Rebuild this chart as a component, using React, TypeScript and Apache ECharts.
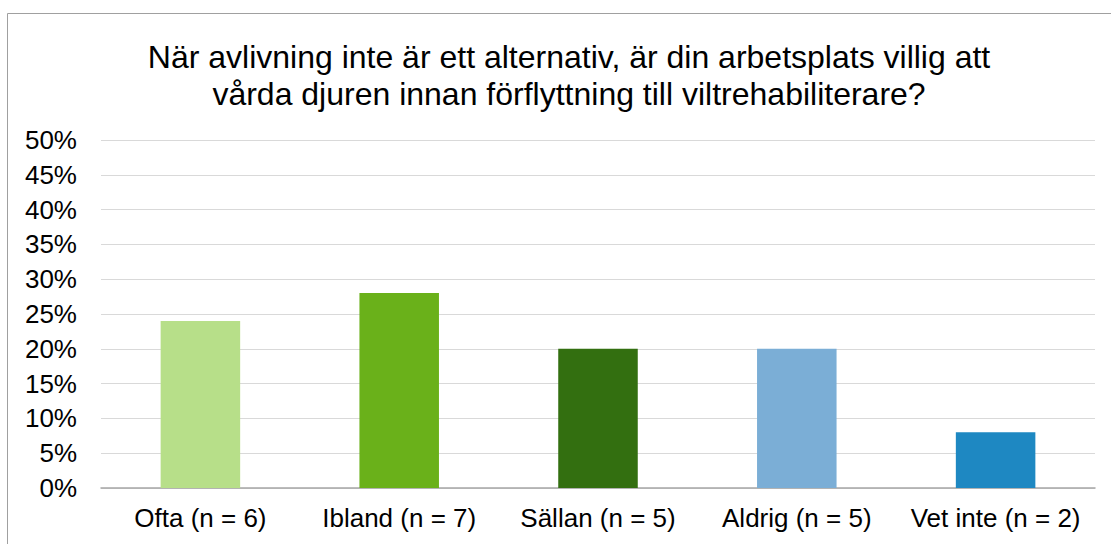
import React, { useEffect, useRef } from "react";
import * as echarts from "echarts";

const titleText = "När avlivning inte är ett alternativ, är din arbetsplats villig att\nvårda djuren innan förflyttning till viltrehabiliterare?";
const categories = ["Ofta (n = 6)", "Ibland (n = 7)", "Sällan (n = 5)", "Aldrig (n = 5)", "Vet inte (n = 2)"];
const values = [24, 28, 20, 20, 8];
const colors = ["#B7DF89", "#6AB11A", "#336F10", "#7BAED6", "#1E88C2"];

export default function App() {
  const ref = useRef<HTMLDivElement>(null);
  useEffect(() => {
    const chart = echarts.init(ref.current!, null, { renderer: "svg" });
    chart.setOption({
      animation: false,
      title: {
        text: titleText,
        left: 564,
        textAlign: "center",
        top: 33,
        textStyle: { fontFamily: "Liberation Sans", fontSize: 32, fontWeight: "normal", color: "#000", lineHeight: 37 },
      },
      graphic: [
        { type: "rect", shape: { x: 7.5, y: 13.5, width: 1120, height: 560 }, style: { fill: "none", stroke: "#A0A0A0", lineWidth: 1 }, silent: true },
      ],
      grid: { left: 101, right: 16, top: 140, bottom: 56, containLabel: false },
      xAxis: {
        type: "category",
        data: categories,
        axisTick: { show: false },
        axisLine: { lineStyle: { color: "#A6A6A6", width: 1.5 } },
        axisLabel: { color: "#000", fontFamily: "Liberation Sans", fontSize: 26, margin: 17, interval: 0 },
      },
      yAxis: {
        type: "value",
        min: 0,
        max: 50,
        interval: 5,
        axisLabel: { formatter: "{value}%", color: "#000", fontFamily: "Liberation Sans", fontSize: 26, margin: 24 },
        splitLine: { lineStyle: { color: "#D9D9D9", width: 1 } },
        axisLine: { show: false },
        axisTick: { show: false },
      },
      series: [
        {
          type: "bar",
          data: values.map((v, i) => ({ value: v, itemStyle: { color: colors[i] } })),
          barWidth: "40%",
        },
      ],
    });
    return () => chart.dispose();
  }, []);
  return <div ref={ref} style={{ position: "fixed", left: 0, top: 0, width: 1111, height: 544, background: "#fff" }} />;
}
